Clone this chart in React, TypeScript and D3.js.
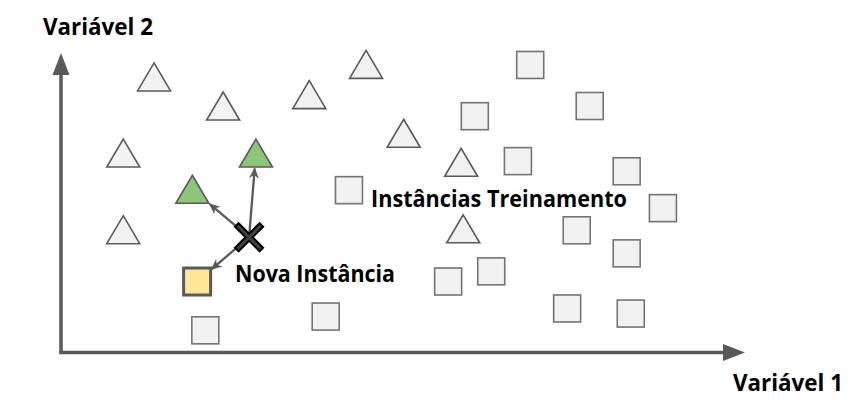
import React from "react";
import * as d3 from "d3";

// Class A (triangles): [variável 1, variável 2]
const triangles: [number, number][] = [
  [1.36, 9.2], [2.37, 8.23], [3.63, 8.61], [4.46, 9.62], [5.01, 7.32],
  [0.91, 6.66], [5.85, 6.35], [0.91, 4.1], [5.88, 4.13],
];
// Nearest triangle neighbours (highlighted)
const neighborTriangles: [number, number][] = [[1.92, 5.45], [2.85, 6.66]];
// Class B (squares)
const squares: [number, number][] = [
  [6.86, 9.6], [7.73, 8.23], [6.05, 7.89], [6.68, 6.39], [8.27, 6.05],
  [4.21, 5.42], [8.8, 4.82], [7.54, 4.08], [8.27, 3.31], [6.29, 2.71],
  [5.66, 2.37], [7.4, 1.47], [8.33, 1.3], [3.87, 1.2], [2.11, 0.74],
];
const neighborSquares: [number, number][] = [[1.99, 2.37]];
const newInstance: [number, number] = [2.75, 3.85];

const labels = {
  yAxis: "Variável 2",
  xAxis: "Variável 1",
  training: "Instâncias Treinamento",
  query: "Nova Instância",
};

const W = 865;
const H = 407;
const x = d3.scaleLinear().domain([0, 10]).range([61, 745]);
const y = d3.scaleLinear().domain([0, 10]).range([352.5, 53]);

const TRI_HW = 16.5;
const TRI_HH = 14;
const SQ = 27;
const AXIS = "#595959";
const FONT = "'Open Sans', 'DejaVu Sans', sans-serif";

function triPath(cx: number, cy: number) {
  const p = d3.path();
  p.moveTo(cx, cy - TRI_HH);
  p.lineTo(cx + TRI_HW, cy + TRI_HH);
  p.lineTo(cx - TRI_HW, cy + TRI_HH);
  p.closePath();
  return p.toString();
}

function boundaryDist(kind: "tri" | "sq", dx: number, dy: number) {
  if (kind === "sq") {
    const h = SQ / 2;
    return Math.min(h / Math.max(Math.abs(dx), 1e-6), h / Math.max(Math.abs(dy), 1e-6));
  }
  let best = Infinity;
  if (dy > 0) best = Math.min(best, TRI_HH / dy);
  const k = (2 * TRI_HH) / TRI_HW;
  const denom = dy - k * Math.abs(dx);
  if (denom < 0) best = Math.min(best, -TRI_HH / denom);
  return best;
}

export default function App() {
  const qx = x(newInstance[0]);
  const qy = y(newInstance[1]);
  const targets: { p: [number, number]; kind: "tri" | "sq" }[] = [
    ...neighborTriangles.map((p) => ({ p, kind: "tri" as const })),
    ...neighborSquares.map((p) => ({ p, kind: "sq" as const })),
  ];
  const arrows = targets.map(({ p, kind }) => {
    const tx = x(p[0]);
    const ty = y(p[1]);
    const len = Math.hypot(qx - tx, qy - ty);
    const ux = (qx - tx) / len;
    const uy = (qy - ty) / len;
    const d = boundaryDist(kind, ux, uy) + 1.5;
    return { x1: qx, y1: qy, x2: tx + ux * d, y2: ty + uy * d };
  });
  const xArm = 13;

  return (
    <svg
      width={W}
      height={H}
      style={{ position: "absolute", left: 0, top: 0, background: "#fff" }}
      fontFamily={FONT}
    >
      <defs>
        <marker
          id="ah"
          viewBox="0 0 10 10"
          refX="9"
          refY="5"
          markerWidth="11"
          markerHeight="11"
          markerUnits="userSpaceOnUse"
          orient="auto"
        >
          <path d="M0,0.5 L10,5 L0,9.5 L3,5 Z" fill="#595959" />
        </marker>
      </defs>
      {/* axes */}
      <line x1={x(0)} y1={y(0)} x2={x(0)} y2={y(10) + 20} stroke={AXIS} strokeWidth={3.5} />
      <line x1={x(0) - 1.75} y1={y(0)} x2={x(10) - 20} y2={y(0)} stroke={AXIS} strokeWidth={3.5} />
      <path
        d={`M${x(0)},${y(10)} L${x(0) + 8.5},${y(10) + 22} L${x(0) - 8.5},${y(10) + 22} Z`}
        fill={AXIS}
      />
      <path
        d={`M${x(10)},${y(0)} L${x(10) - 22},${y(0) - 8.5} L${x(10) - 22},${y(0) + 8.5} Z`}
        fill={AXIS}
      />

      {/* training triangles */}
      {triangles.map((p, i) => (
        <path key={"t" + i} d={triPath(x(p[0]), y(p[1]))} fill="#f2f2f2" stroke="#5a5a5a" strokeWidth={1.6} />
      ))}
      {neighborTriangles.map((p, i) => (
        <path key={"g" + i} d={triPath(x(p[0]), y(p[1]))} fill="#8fc47b" stroke="#5a5a5a" strokeWidth={1.6} />
      ))}
      {squares.map((p, i) => (
        <rect
          key={"s" + i}
          x={x(p[0]) - SQ / 2}
          y={y(p[1]) - SQ / 2}
          width={SQ}
          height={SQ}
          fill="#f2f2f2"
          stroke="#747474"
          strokeWidth={1.6}
        />
      ))}
      {neighborSquares.map((p, i) => (
        <rect
          key={"y" + i}
          x={x(p[0]) - SQ / 2}
          y={y(p[1]) - SQ / 2}
          width={SQ}
          height={SQ}
          fill="#ffe699"
          stroke="#5a5a5a"
          strokeWidth={3}
        />
      ))}

      {/* arrows to neighbours */}
      {arrows.map((a, i) => (
        <line key={"a" + i} {...a} stroke="#595959" strokeWidth={2.3} markerEnd="url(#ah)" />
      ))}

      {/* new instance X */}
      <g>
        <line x1={qx - xArm} y1={qy - xArm} x2={qx + xArm} y2={qy + xArm} stroke="#000" strokeWidth={7} />
        <line x1={qx - xArm} y1={qy + xArm} x2={qx + xArm} y2={qy - xArm} stroke="#000" strokeWidth={7} />
        <line x1={qx - xArm + 1.5} y1={qy - xArm + 1.5} x2={qx + xArm - 1.5} y2={qy + xArm - 1.5} stroke="#404040" strokeWidth={3} />
        <line x1={qx - xArm + 1.5} y1={qy + xArm - 1.5} x2={qx + xArm - 1.5} y2={qy - xArm + 1.5} stroke="#404040" strokeWidth={3} />
      </g>

      {/* labels */}
      <text x={43} y={35} fontSize={24} fontWeight={700} textLength={110} lengthAdjust="spacingAndGlyphs">
        {labels.yAxis}
      </text>
      <text x={733} y={391} fontSize={24} fontWeight={700} textLength={110} lengthAdjust="spacingAndGlyphs">
        {labels.xAxis}
      </text>
      <text x={371} y={207} fontSize={23} fontWeight={700} textLength={256} lengthAdjust="spacingAndGlyphs">
        {labels.training}
      </text>
      <text x={235} y={282} fontSize={23.5} fontWeight={700} textLength={160} lengthAdjust="spacingAndGlyphs">
        {labels.query}
      </text>
    </svg>
  );
}
